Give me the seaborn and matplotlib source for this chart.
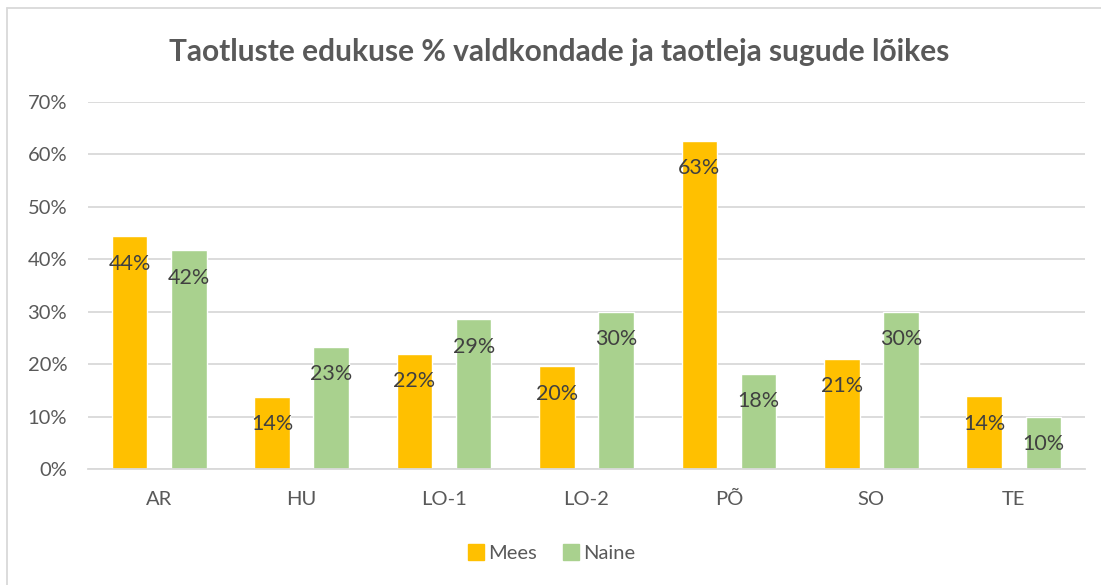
import matplotlib
matplotlib.use('Agg')
import matplotlib.pyplot as plt
import seaborn as sns
import pandas as pd
from matplotlib.lines import Line2D

# Andmed
valdkonnad = ['AR', 'HU', 'LO-1', 'LO-2', 'PÕ', 'SO', 'TE']
mees = [44.4, 13.8, 22.0, 19.6, 62.6, 21.0, 13.9]
naine = [41.7, 23.3, 28.6, 30.0, 18.2, 30.0, 10.0]
sood = ['Mees', 'Naine']
varvid = ['#FFC000', '#A9D18E']

df = pd.DataFrame({
    'valdkond': valdkonnad * 2,
    'sugu': ['Mees'] * len(valdkonnad) + ['Naine'] * len(valdkonnad),
    'edukus': mees + naine,
})

sns.set_theme(style='white')
plt.rcParams['font.family'] = ['Lato', 'DejaVu Sans']

fig = plt.figure(figsize=(11.01, 5.85), dpi=100)
ax = fig.add_axes([88 / 1101, 1 - 469 / 585, (1085 - 88) / 1101, (469 - 102) / 585])

sns.barplot(data=df, x='valdkond', y='edukus', hue='sugu', hue_order=sood,
            palette=varvid, width=0.83, gap=0.4, saturation=1, ax=ax,
            legend=False)

# Väärtuste sildid tulpade sees
for cont in ax.containers:
    labels = [f'{round(b.get_height()):.0f}%' for b in cont]
    ax.bar_label(cont, labels=labels, padding=-27, fontsize=15.5, color='#404040')

ax.set_ylim(0, 70)
ax.set_yticks(range(0, 71, 10))
ax.set_yticklabels([f'{v}%' for v in range(0, 71, 10)])
ax.yaxis.grid(True, color='#D9D9D9', linewidth=1.3)
ax.set_axisbelow(True)
ax.set_xlabel('')
ax.set_ylabel('')
for s in ['top', 'right', 'left']:
    ax.spines[s].set_visible(False)
ax.spines['bottom'].set_color('#D9D9D9')
ax.spines['bottom'].set_linewidth(1.3)
ax.tick_params(axis='y', length=0, pad=15, labelsize=14.5, labelcolor='#595959')
ax.tick_params(axis='x', length=0, pad=16, labelsize=14.5, labelcolor='#595959')

fig.text(559 / 1101, 1 - 52 / 585, 'Taotluste edukuse % valdkondade ja taotleja sugude lõikes',
         ha='center', va='center', fontsize=21.5, fontweight='bold', color='#595959')

handles = [Line2D([], [], marker='s', linestyle='', markersize=11,
                  markerfacecolor=c, markeredgecolor=c) for c in varvid]
fig.legend(handles, sood, loc='center', bbox_to_anchor=(0.5, 1 - 553 / 585),
           ncol=2, frameon=False, fontsize=14.5, labelcolor='#595959',
           handletextpad=0.1, columnspacing=1.2, handlelength=1.0)

# Diagrammi raam
fig.add_artist(Line2D([7 / 1101, 7 / 1101], [0, 1 - 8 / 585], transform=fig.transFigure,
                      color='#D9D9D9', linewidth=1.3))
fig.add_artist(Line2D([7 / 1101, 1], [1 - 8 / 585, 1 - 8 / 585], transform=fig.transFigure,
                      color='#D9D9D9', linewidth=1.3))

fig.savefig('out.png', dpi=100)
